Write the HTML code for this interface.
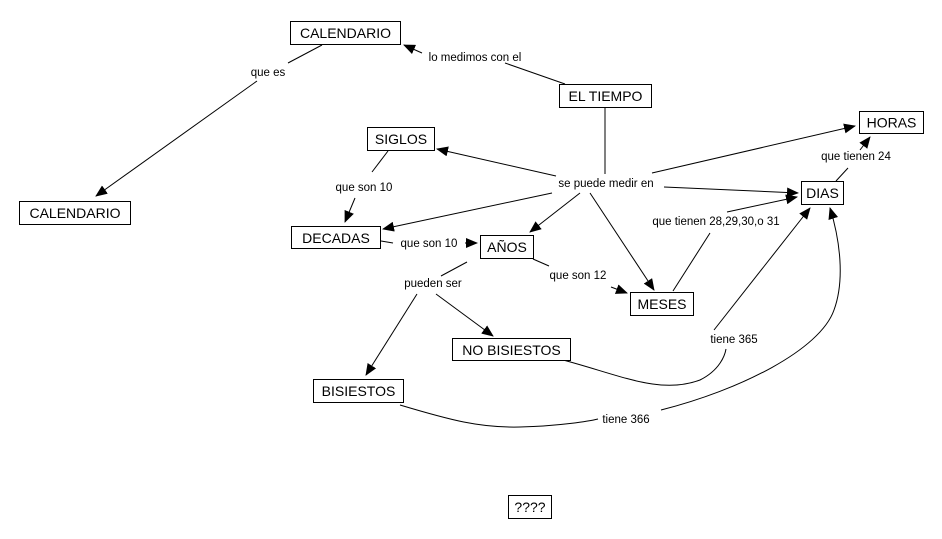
<!DOCTYPE html>
<html><head><meta charset="utf-8"><style>
html,body{margin:0;padding:0;background:#fff;width:942px;height:539px;overflow:hidden}
svg{position:absolute;left:0;top:0}
.n{font-family:"Liberation Sans",sans-serif;font-size:14px;fill:#000}
.l{font-family:"Liberation Sans",sans-serif;font-size:11.5px;fill:#000}
rect{fill:#fff;stroke:#000;stroke-width:1}
line,path{stroke:#000;stroke-width:1;fill:none}
</style></head><body>
<svg width="942" height="539" viewBox="0 0 942 539">
<defs><marker id="a" markerWidth="12" markerHeight="10" refX="11" refY="5" orient="auto" markerUnits="userSpaceOnUse"><path d="M0,0 L12,5 L0,10 Z" style="fill:#000;stroke:none"/></marker></defs>

<!-- connectors -->
<line x1="322" y1="45" x2="288" y2="63"/>
<line x1="257" y1="81" x2="96" y2="196" marker-end="url(#a)"/>
<line x1="565" y1="84" x2="505" y2="63"/>
<line x1="422" y1="53" x2="404" y2="45" marker-end="url(#a)"/>
<line x1="605" y1="108" x2="605" y2="174"/>
<line x1="556" y1="176" x2="437" y2="149" marker-end="url(#a)"/>
<line x1="652" y1="173" x2="855" y2="126" marker-end="url(#a)"/>
<line x1="664" y1="187" x2="798" y2="193" marker-end="url(#a)"/>
<line x1="552" y1="193" x2="383" y2="229" marker-end="url(#a)"/>
<line x1="580" y1="193" x2="530" y2="232" marker-end="url(#a)"/>
<line x1="590" y1="193" x2="654" y2="290" marker-end="url(#a)"/>
<line x1="388" y1="151" x2="372" y2="172"/>
<line x1="355" y1="198" x2="345" y2="222" marker-end="url(#a)"/>
<line x1="381" y1="241" x2="393" y2="243"/>
<line x1="465" y1="243" x2="477" y2="243" marker-end="url(#a)"/>
<line x1="533" y1="259" x2="549" y2="266"/>
<line x1="611" y1="287" x2="627" y2="293" marker-end="url(#a)"/>
<line x1="467" y1="262" x2="441" y2="276"/>
<line x1="417" y1="294" x2="366" y2="375" marker-end="url(#a)"/>
<line x1="436" y1="294" x2="493" y2="336" marker-end="url(#a)"/>
<line x1="673" y1="291" x2="710" y2="233"/>
<line x1="727" y1="212" x2="797" y2="197" marker-end="url(#a)"/>
<line x1="836" y1="181" x2="848" y2="168"/>
<line x1="860" y1="150" x2="870" y2="137" marker-end="url(#a)"/>
<path d="M563,360 C620,375 660,395 700,380 C720,370 725,355 726,349"/>
<line x1="714" y1="330" x2="810" y2="208" marker-end="url(#a)"/>
<path d="M400,405 C450,420 480,428 520,427 C560,426 590,421 598,419"/>
<path d="M661,410 C740,390 820,350 834,310 C845,280 840,240 830,208" marker-end="url(#a)"/>

<!-- nodes -->
<rect x="290.5" y="21.5" width="110" height="23"/><text class="n" x="345.5" y="38" text-anchor="middle">CALENDARIO</text>
<rect x="559.5" y="84.5" width="92" height="23"/><text class="n" x="605.5" y="101" text-anchor="middle">EL TIEMPO</text>
<rect x="367.5" y="127.5" width="67" height="23"/><text class="n" x="401" y="144" text-anchor="middle">SIGLOS</text>
<rect x="859.5" y="111.5" width="64" height="22"/><text class="n" x="891.5" y="127.5" text-anchor="middle">HORAS</text>
<rect x="801.5" y="181.5" width="42" height="23"/><text class="n" x="822.5" y="198" text-anchor="middle">DIAS</text>
<rect x="19.5" y="201.5" width="111" height="23"/><text class="n" x="75" y="218" text-anchor="middle">CALENDARIO</text>
<rect x="291.5" y="226.5" width="89" height="22"/><text class="n" x="336" y="243" text-anchor="middle">DECADAS</text>
<rect x="480.5" y="235.5" width="53" height="23"/><text class="n" x="507" y="252" text-anchor="middle">AÑOS</text>
<rect x="630.5" y="292.5" width="63" height="23"/><text class="n" x="662" y="309" text-anchor="middle">MESES</text>
<rect x="452.5" y="338.5" width="118" height="22"/><text class="n" x="511.5" y="355" text-anchor="middle">NO BISIESTOS</text>
<rect x="313.5" y="379.5" width="90" height="23"/><text class="n" x="358.5" y="396" text-anchor="middle">BISIESTOS</text>
<rect x="508.5" y="495.5" width="43" height="23"/><text class="n" x="530" y="512" text-anchor="middle">????</text>

<!-- labels -->
<text class="l" x="268" y="76" text-anchor="middle">que es</text>
<text class="l" x="475" y="61" text-anchor="middle">lo medimos con el</text>
<text class="l" x="606" y="187" text-anchor="middle">se puede medir en</text>
<text class="l" x="364" y="191" text-anchor="middle">que son 10</text>
<text class="l" x="856" y="160" text-anchor="middle">que tienen 24</text>
<text class="l" x="716" y="225" text-anchor="middle">que tienen 28,29,30,o 31</text>
<text class="l" x="429" y="247" text-anchor="middle">que son 10</text>
<text class="l" x="578" y="279" text-anchor="middle">que son 12</text>
<text class="l" x="433" y="287" text-anchor="middle">pueden ser</text>
<text class="l" x="734" y="343" text-anchor="middle">tiene 365</text>
<text class="l" x="626" y="423" text-anchor="middle">tiene 366</text>
</svg>
</body></html>
